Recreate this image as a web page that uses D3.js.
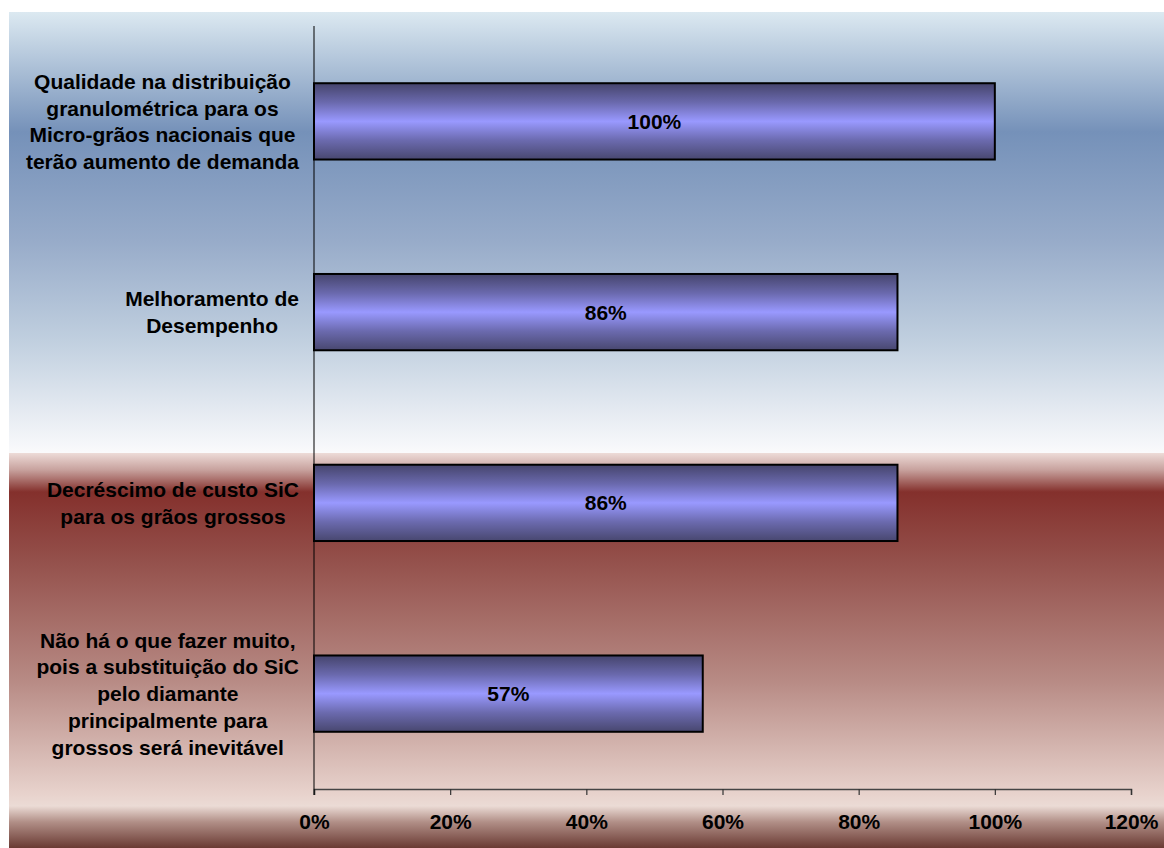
<!DOCTYPE html>
<html>
<head>
<meta charset="utf-8">
<script src="https://cdn.jsdelivr.net/npm/d3@7"></script>
<style>
  body { margin: 0; background: #fff; }
  svg text { font-family: Arial, "Liberation Sans", sans-serif; font-weight: bold; fill: #000; }
</style>
</head>
<body>
<div id="plot"></div>
<script>
// categories (top to bottom), each one already split in lines like the picture
var categories = [
  ["Qualidade na distribuição", "granulométrica para os", "Micro-grãos nacionais que", "terão aumento de demanda"],
  ["Melhoramento de", "Desempenho"],
  ["Decréscimo de custo SiC", "para os grãos grossos"],
  ["Não há o que fazer muito,", "pois a substituição do SiC", "pelo diamante", "principalmente para", "grossos será inevitável"]
];
var values = [100, 85.7, 85.7, 57.1];
var xTicks = [0, 20, 40, 60, 80, 100, 120];

var W = 1164, H = 848;
var margin = {top: 26, right: 33, bottom: 59, left: 314},
    width = W - margin.left - margin.right,
    height = H - margin.top - margin.bottom;

var root = d3.select("div#plot")
  .append("svg")
    .attr("width", W)
    .attr("height", H);

var defs = root.append("defs");

// background: blue upper half, red lower half, dark strip at bottom
var bg = defs.append("linearGradient")
  .attr("id", "bgGrad")
  .attr("gradientUnits", "userSpaceOnUse")
  .attr("x1", 0).attr("x2", 0).attr("y1", 12).attr("y2", H);
var bgStops = [
  [12, "#dce9f1"], [132, "#7591b9"], [240, "#97abc9"], [340, "#c0cfdf"],
  [445, "#f6f7fa"], [452.5, "#fafafb"], [453.5, "#ecdad6"], [470, "#c7a19d"],
  [492, "#84302c"], [560, "#94504b"], [680, "#b78a84"], [795, "#e8d3cd"],
  [806, "#ebdbd5"], [822, "#b18f87"], [848, "#6a3a33"]
];
bg.selectAll("stop").data(bgStops).enter().append("stop")
  .attr("offset", function(d) { return (d[0] - 12) / (H - 12); })
  .attr("stop-color", function(d) { return d[1]; });

// bar fill: dark at the edges, light in the middle
var barGrad = defs.append("linearGradient")
  .attr("id", "barGrad")
  .attr("x1", 0).attr("x2", 0).attr("y1", 0).attr("y2", 1);
var barStops = [[0, "#45446c"], [0.25, "#6a69ad"], [0.5, "#9999ff"], [0.75, "#6b6aae"], [1, "#48476f"]];
barGrad.selectAll("stop").data(barStops).enter().append("stop")
  .attr("offset", function(d) { return d[0]; })
  .attr("stop-color", function(d) { return d[1]; });

root.append("rect")
  .attr("x", 9).attr("y", 12)
  .attr("width", W - 9).attr("height", H - 12)
  .attr("fill", "url(#bgGrad)");

var svg = root.append("g")
  .attr("transform", "translate(" + margin.left + "," + margin.top + ")");

var x = d3.scaleLinear().domain([0, 120]).range([0, width]);
var y = d3.scaleBand().domain(d3.range(categories.length)).range([0, height])
  .paddingInner(0.6).paddingOuter(0.3);

// bars
svg.selectAll(".bar")
  .data(values)
  .enter().append("rect")
  .attr("class", "bar")
  .attr("x", x(0))
  .attr("y", function(d, i) { return y(i); })
  .attr("width", function(d) { return x(d) - x(0); })
  .attr("height", y.bandwidth())
  .attr("fill", "url(#barGrad)")
  .attr("stroke", "#000")
  .attr("stroke-width", 2);

// value labels
svg.selectAll(".val")
  .data(values)
  .enter().append("text")
  .attr("class", "val")
  .attr("x", function(d) { return x(d) / 2; })
  .attr("y", function(d, i) { return y(i) + y.bandwidth() / 2; })
  .attr("dy", "0.36em")
  .attr("text-anchor", "middle")
  .style("font-size", "21px")
  .text(function(d) { return d3.format(".0f")(d) + "%"; });

// x axis
var xAxis = d3.axisBottom(x).tickValues(xTicks).tickSize(6).tickPadding(19)
  .tickFormat(function(d) { return d + "%"; });
var gx = svg.append("g")
  .attr("transform", "translate(0," + height + ")")
  .call(xAxis);
gx.select(".domain").attr("stroke", "#444").attr("stroke-width", 1.5);
gx.selectAll(".tick line").attr("stroke", "#333").attr("stroke-width", 1.2);
gx.selectAll(".tick text")
  .style("font-size", "21px")
  .style("font-family", "Arial, 'Liberation Sans', sans-serif")
  .attr("fill", "#000");

// y axis line only
svg.append("line")
  .attr("x1", 0).attr("x2", 0)
  .attr("y1", 0).attr("y2", height + 6)
  .attr("stroke", "#000")
  .attr("stroke-width", 1);

// category labels: lines centered on each other, block right edge near the axis
var lineH = 26.7;
categories.forEach(function(lines, i) {
  var t = svg.append("text")
    .attr("text-anchor", "middle")
    .style("font-size", "21px");
  var cy = y(i) + y.bandwidth() / 2;
  lines.forEach(function(s, j) {
    t.append("tspan")
      .attr("y", cy + (j - (lines.length - 1) / 2) * lineH)
      .attr("dy", "0.36em")
      .text(s);
  });
  var maxW = d3.max(t.selectAll("tspan").nodes(), function(n) { return n.getComputedTextLength(); });
  t.selectAll("tspan").attr("x", -15 - maxW / 2);
});
</script>
</body>
</html>
